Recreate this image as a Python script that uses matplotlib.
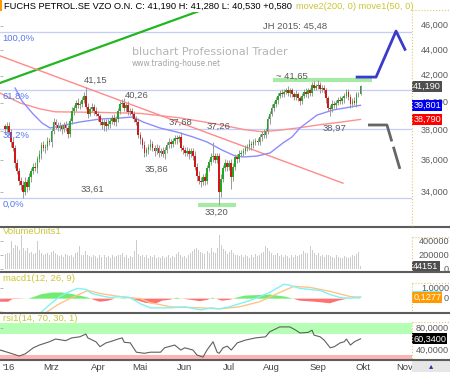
#!/usr/bin/env python
# -*- coding: utf-8 -*-
"""
Fuchs Petrolub Vz. daily chart 2016 with volume, MACD and RSI panes.
"""

import matplotlib
matplotlib.use("Agg")
import matplotlib.pyplot as plt
from matplotlib.lines import Line2D
from matplotlib.patches import Rectangle
from matplotlib.ticker import NullLocator
import pandas as pd

plt.rcParams['font.family'] = ['Liberation Sans', 'DejaVu Sans']

# Globals and constants variables.
FIRST_DAY = '2016-01-28'
LAST_DAY = '2016-09-30'
AXIS_END = '2016-11-30'

month_labels = ["'16", 'Mrz', 'Apr', 'Mai', 'Jun', 'Jul', 'Aug', 'Sep', 'Okt', 'Nov']
month_starts = ['2016-02-01', '2016-03-01', '2016-04-01', '2016-05-01', '2016-06-01',
                '2016-07-01', '2016-08-01', '2016-09-01', '2016-10-01', '2016-11-01']

first_open = 38.3
closes = [
    38.1, 38.3, 37.9, 37.2, 36.8, 35.8, 35.3, 34.7, 34.4, 34.0,
    34.6, 34.3, 34.9, 35.3, 35.6, 35.5, 36.1, 36.4, 37.0, 36.8,
    36.9, 37.3, 37.2, 38.0, 38.6, 38.4, 38.2, 38.3, 38.1, 38.4,
    38.2, 37.8, 38.7, 39.4, 39.6, 40.0, 39.8, 39.9, 40.2, 40.5,
    39.7, 39.2, 39.5, 39.7, 39.4, 39.2, 39.0, 38.6, 38.4, 38.6,
    38.3, 38.5, 38.7, 38.9, 38.6, 38.8, 39.4, 39.9, 40.0, 39.6,
    39.8, 39.3, 39.4, 39.2, 38.8, 38.6, 37.7, 37.4, 37.0, 36.5,
    36.7, 36.9, 37.1, 36.8, 36.6, 36.8, 36.5, 36.6, 36.4, 36.7,
    37.0, 37.2, 37.1, 37.3, 37.5, 37.4, 37.6, 36.8, 36.7, 36.5,
    36.6, 36.4, 36.6, 36.3, 35.6, 35.0, 34.7, 34.6, 34.9, 34.7,
    35.5, 35.9, 36.2, 36.3, 36.0, 36.3, 34.0, 34.8, 35.5, 35.8,
    35.6, 35.8, 34.9, 35.6, 36.2, 36.1, 36.4, 36.5, 36.6, 36.8,
    36.9, 37.1, 37.0, 37.2, 37.3, 37.2, 37.6, 37.8, 37.7, 38.0,
    38.8, 39.2, 39.6, 39.9, 40.2, 40.5, 40.7, 40.6, 40.8, 40.9,
    40.7, 40.9, 40.6, 40.4, 40.6, 40.3, 40.1, 40.5, 40.8, 40.6,
    40.9, 40.7, 41.3, 41.1, 41.2, 41.3, 41.0, 41.1, 40.9, 40.3,
    39.6, 39.5, 39.9, 39.8, 40.0, 40.2, 40.1, 40.3, 40.5, 40.8,
    40.4, 39.9, 40.1, 40.0, 40.6, 40.61, 41.19,
]
upper_wick = [
    0.2, 0.3, 0.3, 0.2, 0.3, 0.2, 0.3, 0.2, 0.2, 0.3,
    0.3, 0.2, 0.3, 0.2, 0.2, 0.3, 0.2, 0.3, 0.2, 0.3,
    0.2, 0.3, 0.2, 0.2, 0.3, 0.2, 0.2, 0.3, 0.2, 0.2,
    0.3, 0.2, 0.2, 0.3, 0.2, 0.2, 0.3, 0.2, 0.2, 0.3,
    0.65, 0.3, 0.2, 0.3, 0.2, 0.3, 0.2, 0.2, 0.3, 0.2,
    0.2, 0.3, 0.2, 0.2, 0.3, 0.2, 0.2, 0.2, 0.26, 0.3,
    0.2, 0.3, 0.2, 0.2, 0.2, 0.2, 0.3, 0.2, 0.2, 0.3,
    0.2, 0.2, 0.3, 0.2, 0.2, 0.3, 0.2, 0.2, 0.3, 0.2,
    0.2, 0.3, 0.2, 0.2, 0.2, 0.2, 0.08, 0.3, 0.2, 0.2,
    0.3, 0.2, 0.2, 0.2, 0.3, 0.2, 0.3, 0.2, 0.2, 0.3,
    0.2, 0.2, 0.3, 0.96, 0.2, 0.2, 0.2, 0.3, 0.2, 0.3,
    0.2, 0.2, 0.3, 0.2, 0.2, 0.2, 0.3, 0.2, 0.2, 0.2,
    0.2, 0.3, 0.2, 0.2, 0.2, 0.2, 0.2, 0.2, 0.3, 0.2,
    0.2, 0.2, 0.3, 0.2, 0.2, 0.2, 0.2, 0.3, 0.2, 0.2,
    0.3, 0.2, 0.2, 0.2, 0.3, 0.2, 0.2, 0.2, 0.2, 0.3,
    0.2, 0.2, 0.2, 0.3, 0.2, 0.35, 0.2, 0.2, 0.2, 0.2,
    0.2, 0.2, 0.3, 0.2, 0.2, 0.2, 0.3, 0.2, 0.2, 0.2,
    0.2, 0.2, 0.2, 0.3, 0.2, 0.2, 0.09,
]
lower_wick = [
    0.3, 0.2, 0.2, 0.3, 0.2, 0.3, 0.2, 0.3, 0.3, 0.39,
    0.2, 0.3, 0.2, 0.3, 0.2, 0.2, 0.3, 0.2, 0.3, 0.2,
    0.3, 0.2, 0.2, 0.3, 0.2, 0.3, 0.2, 0.2, 0.3, 0.2,
    0.2, 0.3, 0.2, 0.2, 0.3, 0.2, 0.2, 0.3, 0.2, 0.2,
    0.2, 0.3, 0.2, 0.2, 0.3, 0.2, 0.3, 0.2, 0.3, 0.4,
    0.3, 0.2, 0.3, 0.2, 0.2, 0.3, 0.2, 0.2, 0.2, 0.2,
    0.3, 0.2, 0.2, 0.3, 0.2, 0.2, 0.2, 0.3, 0.2, 0.3,
    0.2, 0.3, 0.2, 0.2, 0.3, 0.2, 0.3, 0.2, 0.2, 0.3,
    0.2, 0.2, 0.3, 0.2, 0.2, 0.3, 0.2, 0.2, 0.3, 0.2,
    0.2, 0.3, 0.2, 0.3, 0.2, 0.3, 0.2, 0.3, 0.2, 0.3,
    0.2, 0.2, 0.2, 0.3, 0.2, 0.2, 0.8, 0.3, 0.2, 0.2,
    0.3, 0.2, 0.7, 0.2, 0.2, 0.3, 0.2, 0.2, 0.2, 0.2,
    0.2, 0.2, 0.3, 0.2, 0.2, 0.2, 0.2, 0.3, 0.2, 0.2,
    0.2, 0.3, 0.2, 0.2, 0.2, 0.3, 0.2, 0.2, 0.2, 0.2,
    0.2, 0.3, 0.2, 0.2, 0.2, 0.2, 0.3, 0.2, 0.2, 0.2,
    0.3, 0.2, 0.2, 0.2, 0.2, 0.2, 0.3, 0.2, 0.2, 0.3,
    0.2, 0.5, 0.2, 0.2, 0.3, 0.2, 0.2, 0.2, 0.3, 0.2,
    0.2, 0.3, 0.2, 0.2, 0.3, 0.2, 0.08,
]
volume_k = [
    220, 230, 240, 410, 300, 350, 330, 280, 490, 300,
    260, 300, 240, 250, 220, 230, 400, 280, 230, 210,
    220, 240, 200, 250, 270, 230, 210, 190, 200, 180,
    220, 200, 190, 210, 180, 230, 250, 330, 200, 210,
    260, 200, 190, 180, 210, 190, 170, 200, 180, 210,
    180, 190, 170, 200, 180, 190, 210, 200, 230, 180,
    200, 170, 190, 180, 260, 420, 220, 190, 210, 180,
    200, 170, 190, 180, 200, 160, 180, 170, 190, 170,
    180, 200, 160, 190, 180, 220, 250, 200, 180, 190,
    170, 200, 230, 260, 290, 310, 280, 250, 230, 220,
    270, 230, 310, 250, 240, 300, 490, 350, 290, 260,
    220, 250, 280, 230, 200, 210, 190, 200, 180, 210,
    190, 170, 200, 180, 220, 190, 200, 230, 250, 330,
    300, 260, 240, 210, 200, 230, 190, 210, 180, 200,
    190, 170, 200, 180, 210, 190, 200, 220, 260, 240,
    230, 330, 280, 230, 210, 240, 190, 200, 180, 210,
    200, 190, 180, 170, 200, 180, 160, 170, 190, 180,
    170, 180, 200, 190, 220, 250, 44.151,
]

# moving averages (trading day index, price)
ma200_idx = [-2.5, 7.4, 17.3, 24.8, 47, 66.8, 86.6, 106.4, 118.8, 127.2, 136.1, 146, 155.9, 165.8, 176]
ma200_val = [40.70, 39.97, 39.54, 39.33, 39.29, 39.22, 38.90, 38.42, 38.07, 37.93, 38.04, 38.21,
             38.42, 38.59, 38.79]
ma50_idx = [5, 8.4, 13.9, 18.3, 22.3, 27.2, 37.1, 47, 56.9, 63.4, 68.3, 76.7, 85.1, 93.1, 100,
            107.4, 113.9, 118.8, 124.8, 131.2, 137.6, 142.1, 146, 154.5, 162.4, 176]
ma50_val = [41.07, 40.11, 39.17, 38.54, 38.19, 38.33, 38.61, 38.82, 38.89, 38.96, 38.61, 38.19,
            37.91, 37.57, 37.23, 36.69, 36.29, 36.23, 36.29, 36.49, 37.16, 37.57, 38.19, 39.10,
            39.46, 39.801]

# drawn lines
green_trend_idx = [-2.5, 100]
green_trend_val = [41.45, 47.5]
red_trend_idx = [-2.5, 167.3]
red_trend_val = [43.55, 34.54]
blue_proj_idx = [174.3, 183.7, 193.6, 198]
blue_proj_val = [41.90, 41.90, 45.56, 44.07]
gray_proj_idx = [179.7, 189.1, 195.5]
gray_proj_val = [38.40, 38.40, 35.45]
resist_idx = [132.7, 181.7]
resist_val = 41.65
support_idx = [95.5, 114.4]
support_val = 33.20

fib_high = 45.48
fib_low = 33.61
fib_levels = [1.0, 0.618, 0.382, 0.0]

# (text, trading day index, price) for the chart annotations
price_notes = [
    ('41,15', 45, 41.68), ('40,26', 65, 40.56), ('37,68', 87, 38.56), ('37,26', 105.5, 38.28),
    ('35,86', 75, 35.42), ('33,61', 43.5, 34.16), ('33,20', 104.5, 32.77), ('38,97', 163, 38.14),
    ('~ 41,65', 142, 41.98), ('JH 2015: 45,48', 143.5, 45.98),
]

macd_idx = [-2.5, 7, 17, 22, 27, 32, 36, 40, 43, 47, 52, 57, 62, 67, 72, 82, 89, 97, 102, 106,
            111, 116, 121, 126, 131, 138, 141, 146, 151, 156, 161, 166, 171, 176]
macd_val = [-1.7, -1.9, -1.5, -0.6, 0.2, 0.7, 1.0, 0.9, 0.5, 0.3, 0.1, 0.2, 0.1, -0.5, -0.9, -0.9,
            -0.8, -1.1, -0.9, -1.0, -0.8, -0.5, -0.2, 0.2, 0.6, 1.4, 1.3, 1.0, 0.9, 0.8, 0.4, 0.1,
            0.05, 0.16]
signal_idx = [-2.5, 12, 20, 26, 32, 41, 47, 57, 67, 72, 82, 97, 106, 116, 126, 136, 143, 151, 161,
              171, 176]
signal_val = [-1.3, -1.8, -1.4, -0.6, 0.0, 0.8, 0.5, 0.2, 0.0, -0.4, -0.8, -0.9, -1.0, -0.8, -0.3,
              0.6, 1.2, 1.1, 0.7, 0.2, 0.1277]
hist_idx = [-2.5, 1.5, 3.5, 11.4, 13.9, 18.3, 23.3, 28.2, 33.2, 38.1, 42.1, 43.6, 47, 51, 54.5,
            59.4, 64.4, 69.3, 74.3, 77.7, 81.7, 84.7, 87.6, 91.6, 96.5, 100.5, 102.5, 104.5, 107.4,
            111.4, 114.4, 118.8, 125.2, 131.2, 138.6, 142.6, 146, 153.5, 160.9, 164.9, 168.3,
            170.8, 175.7]
hist_val = [-0.3, -0.3, -0.05, 0, 0.15, 0.45, 0.6, 0.6, 0.45, 0.25, 0.05, -0.1, -0.3, -0.2, 0,
            0.05, -0.1, -0.4, -0.5, -0.2, -0.1, 0.1, 0, -0.1, -0.25, -0.1, 0.1, 0, -0.2, -0.1,
            0.1, 0.3, 0.35, 0.4, 0.2, 0, -0.2, -0.3, -0.45, -0.2, -0.05, 0, 0.05]

rsi_idx = [-2.5, 2, 7, 10, 14, 17, 22, 25, 30, 33, 37, 40, 41, 45, 47, 50, 52, 56, 58, 59, 62, 65,
           69, 72, 77, 79, 82, 84, 87, 89, 93, 95, 98, 100, 103, 105, 106, 108, 110, 112, 115, 119,
           124, 129, 131, 136, 141, 144, 146, 150, 152, 153, 156, 158, 161, 163, 166, 168, 169,
           171, 173, 176]
rsi_val = [40, 35, 29, 33, 44, 49, 55, 60, 57, 62, 64, 69, 62, 55, 46, 53, 55, 60, 62, 54, 53, 36,
           34, 36, 36, 44, 47, 49, 40, 44, 40, 31, 27, 40, 55, 36, 34, 44, 47, 40, 53, 58, 62, 64,
           73, 82, 82, 76, 71, 72, 76, 67, 64, 58, 44, 46, 53, 55, 60, 49, 55, 60.34]

price_ticks = [34, 36, 38, 40, 42, 44, 46]
volume_ticks = [0, 200000, 400000]
macd_ticks = [0, 1]
rsi_ticks = [40, 80]

YELLOW = '#cbc435'
GRAY_TXT = '#5a5a5a'


def de(value, digits):
    return f"{value:.{digits}f}".replace('.', ',')


def fx(px):
    return px / 450.0


def fy(py):
    return 1.0 - py / 372.0


def make_panel(fig, top, bottom):
    ax = fig.add_axes([0, fy(bottom), fx(412), (bottom - top) / 372.0])
    for spine in ax.spines.values():
        spine.set_visible(False)
    ax.set_xlim(-2.5, 201.5)
    ax.set_xticks([])
    return ax


def right_labels(ax, ticks, texts):
    ax.set_yticks(ticks)
    ax.yaxis.set_minor_locator(NullLocator())
    ax.tick_params(axis='y', left=True, right=False, labelleft=False, length=2.5,
                   width=0.6, color='#aaaaaa', direction='in')
    for value, text in zip(ticks, texts):
        ax.text(449.0 / 412.0, value, text, transform=ax.get_yaxis_transform(), ha='right',
                va='center', fontsize=6.6, color=GRAY_TXT, clip_on=False)


def value_box(ax, value, text, face, zorder=6, color='white'):
    ax.text(1.003, value, text, transform=ax.get_yaxis_transform(), ha='left', va='center',
            fontsize=6.6, color=color, clip_on=False, zorder=zorder,
            bbox=dict(boxstyle='square,pad=0.12', fc=face, ec='none'))


def run():
    days = pd.bdate_range(FIRST_DAY, LAST_DAY)
    all_days = pd.bdate_range(FIRST_DAY, AXIS_END)
    idx = list(range(len(days)))
    month_pos = [int(all_days.searchsorted(pd.Timestamp(m))) for m in month_starts]

    opens = [first_open] + closes[:-1]
    highs = [max(o, c) + w for o, c, w in zip(opens, closes, upper_wick)]
    lows = [min(o, c) - w for o, c, w in zip(opens, closes, lower_wick)]

    fig = plt.figure(figsize=(4.5, 3.72), dpi=100)

    # ---- price pane
    ax = make_panel(fig, 12, 227)
    ax.set_yscale('log')
    ax.set_ylim(31.89, 47.17)

    for lvl in fib_levels:
        level = fib_low + lvl * (fib_high - fib_low)
        ax.axhline(level, color='#c6cef8', lw=0.9, zorder=1)
        ax.annotate(de(lvl * 100, 1) + '%', xy=(-2.5, level), xytext=(2, -1.5),
                    textcoords='offset points', va='top', ha='left', fontsize=6.8,
                    color='#5577ee', zorder=7)

    fig.text(fx(132), fy(52), 'bluchart Professional Trader', fontsize=8,
             family='DejaVu Sans', color='#b4b4b4', va='center', ha='left', zorder=0)
    fig.text(fx(132), fy(64), 'www.trading-house.net', fontsize=5.5, family='DejaVu Sans',
             color='#a4a4a4', va='center', ha='left', zorder=0)

    ax.plot(green_trend_idx, green_trend_val, color='#22b622', lw=1.6, zorder=3)
    ax.plot(red_trend_idx, red_trend_val, color='#ff8a8a', lw=1.0, zorder=3)
    ax.plot(ma200_idx, ma200_val, color='#ff9090', lw=1.0, zorder=3)
    ax.plot(ma50_idx, ma50_val, color='#8c8cff', lw=1.0, zorder=3)
    ax.plot(resist_idx, [resist_val] * 2, color='#a6eaa6', lw=3, zorder=2,
            solid_capstyle='butt')
    ax.plot(support_idx, [support_val] * 2, color='#a6eaa6', lw=3, zorder=2,
            solid_capstyle='butt')
    ax.plot(blue_proj_idx, blue_proj_val, color='#3a3acc', lw=2, zorder=4)
    ax.plot(gray_proj_idx, gray_proj_val, color='#666666', lw=2, zorder=4,
            dashes=(13, 2), solid_capstyle='butt')

    ax.vlines(idx, lows, highs, color='#9a9a9a', lw=0.7, zorder=4)
    bottoms = [min(o, c) for o, c in zip(opens, closes)]
    heights = [max(abs(c - o), 0.04) for o, c in zip(opens, closes)]
    colors = ['#23a823' if c >= o else '#d01818' for o, c in zip(opens, closes)]
    ax.bar(idx, heights, bottom=bottoms, width=0.85, color=colors, lw=0, zorder=5)

    for text, xi, yv in price_notes:
        ax.text(xi, yv, text, fontsize=6.8, color=GRAY_TXT, ha='center', va='center', zorder=7)

    right_labels(ax, price_ticks, [de(t, 3) for t in price_ticks])
    value_box(ax, closes[-1], de(closes[-1], 3), '#4f4f4f')
    value_box(ax, ma50_val[-1], de(ma50_val[-1], 3), '#0000f0')
    value_box(ax, ma200_val[-1], de(ma200_val[-1], 3), '#ff0000')

    # ---- volume pane
    axv = make_panel(fig, 227, 272)
    axv.set_ylim(-36000, 607000)
    axv.bar(idx, [v * 1000 for v in volume_k], width=0.5, color='#cccccc', lw=0,
            antialiased=False)
    axv.text(0.007, 0.89, 'VolumeUnits1', transform=axv.transAxes, fontsize=6.8,
             color=YELLOW, va='center')
    right_labels(axv, volume_ticks, [str(t) for t in volume_ticks])
    value_box(axv, volume_k[-1] * 1000, str(int(round(volume_k[-1] * 1000))), '#4f4f4f')

    # ---- macd pane
    axm = make_panel(fig, 272, 313)
    axm.set_ylim(-1.4, 2.6)
    axm.fill_between(hist_idx, hist_val, 0, where=[v >= 0 for v in hist_val],
                     interpolate=True, color='#70ec70', lw=0)
    axm.fill_between(hist_idx, hist_val, 0, where=[v <= 0 for v in hist_val],
                     interpolate=True, color='#ff7070', lw=0)
    axm.plot(signal_idx, signal_val, color='#ffc488', lw=1.0)
    axm.plot(macd_idx, macd_val, color='#80f2f2', lw=1.0)
    axm.text(0.007, 0.85, 'macd1(12, 26, 9)', transform=axm.transAxes, fontsize=6.8,
             color=YELLOW, va='center')
    right_labels(axm, macd_ticks, ['0', '1,0000'])
    # macd value box, almost hidden behind the signal value box
    value_box(axm, 0.24, de(signal_val[-1], 4), '#7ff0f0', zorder=5, color='#7ff0f0')
    value_box(axm, signal_val[-1], de(signal_val[-1], 4), '#ff9a00')

    # ---- rsi pane
    axr = make_panel(fig, 313, 360)
    axr.set_ylim(21.8, 107.3)
    axr.axhspan(70, 90, color='#b4ffb4', lw=0)
    axr.axhspan(0, 30, color='#ffb4b4', lw=0)
    axr.plot(rsi_idx, rsi_val, color='#606060', lw=0.8)
    axr.text(0.007, 0.89, 'rsi1(14, 70, 30, 1)', transform=axr.transAxes, fontsize=6.8,
             color=YELLOW, va='center')
    right_labels(axr, rsi_ticks, [de(t, 4) for t in rsi_ticks])
    value_box(axr, rsi_val[-1], de(rsi_val[-1], 4), '#000000')
    axr.set_xticks(month_pos)
    axr.set_xticklabels(month_labels, fontsize=6.8, color='#444444')
    axr.tick_params(axis='x', length=0, pad=2.5)

    # ---- frame decoration
    for py in (227, 272, 313, 360):
        fig.add_artist(Line2D([0, 1], [fy(py), fy(py)], transform=fig.transFigure,
                              color='#5c5c5c', lw=1.5))
    for top, bottom in ((10, 226), (237, 271), (283, 312), (322, 359)):
        fig.add_artist(Line2D([fx(412), fx(412)], [fy(top), fy(bottom)],
                              transform=fig.transFigure, color='#e2c878', lw=0.8, ls=':'))
        fig.add_artist(Line2D([fx(412), 1], [fy(top), fy(top)], transform=fig.transFigure,
                              color='#e2c878', lw=0.8, ls=':'))
    fig.add_artist(Rectangle((fx(412), 0), 1 - fx(412), 11.0 / 372, transform=fig.transFigure,
                             fc='#e6e6e6', ec='none'))
    fig.text(fx(431), fy(366), '\u25b4', fontsize=6, color='#2233aa', ha='center',
             va='center', family='DejaVu Sans')
    fig.add_artist(Rectangle((0, fy(11)), fx(2), 11.0 / 372, transform=fig.transFigure,
                             fc='#ff9900', ec='none'))

    fig.text(fx(4), fy(6.5), 'FUCHS PETROL.SE VZO O.N. C: 41,190 H: 41,280 '
             'L: 40,530 +0,580', fontsize=6.7, color='black', va='center')
    fig.text(fx(296), fy(6.5), 'move2(200, 0) move1(50, 0)', fontsize=6.7, color=YELLOW,
             va='center')

    fig.savefig('out.png', dpi=100)


def main():
    run()


if __name__ == '__main__':
    main()
